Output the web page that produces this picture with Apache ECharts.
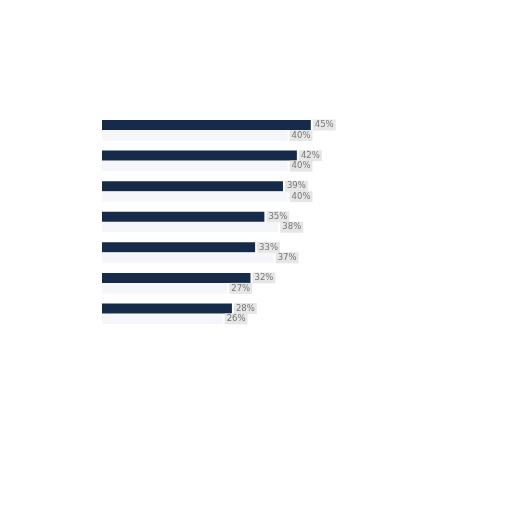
<!DOCTYPE html>
<html><head><meta charset="utf-8">
<script src="https://cdn.jsdelivr.net/npm/echarts@6/dist/echarts.min.js"></script>
<style>html,body{margin:0;padding:0;background:#fff}#c{width:512px;height:512px}</style>
</head><body><div id="c"></div>
<script>
var categories = ['A','B','C','D','E','F','G'];
var seriesA = [45, 42, 39, 35, 33, 32, 28];
var seriesB = [40, 40, 40, 38, 37, 27, 26];
var chart = echarts.init(document.getElementById('c'), null, {renderer:'canvas'});
var lbl = {show:true, position:'right', distance:2, formatter:'{c}%', fontSize:8.5, fontFamily:'DejaVu Sans', color:'#777', backgroundColor:'#e6e6e6', padding:[1,2]};
chart.setOption({
  animation:false,
  grid:{left:102, top:115, width:232, height:214, containLabel:false},
  xAxis:{type:'value', min:0, max:50, show:false},
  yAxis:{type:'category', data:categories, inverse:true, show:false},
  series:[
    {type:'bar', data:seriesA, barWidth:10, barGap:'5%', itemStyle:{color:'#162a4a'}, label:lbl},
    {type:'bar', data:seriesB, barWidth:10, itemStyle:{color:'#f4f6fa'}, label:lbl}
  ]
});
</script></body></html>
